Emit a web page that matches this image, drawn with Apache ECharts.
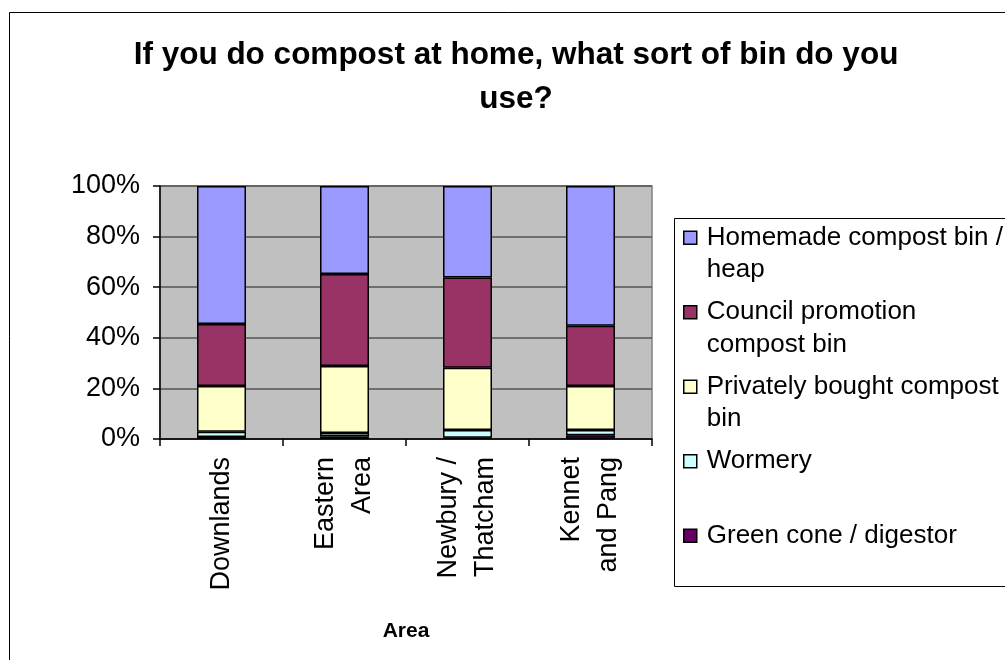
<!DOCTYPE html>
<html>
<head>
<meta charset="utf-8">
<title>Compost bins by area</title>
<script src="https://cdn.jsdelivr.net/npm/echarts@6/dist/echarts.min.js"></script>
<style>
  html, body { margin: 0; padding: 0; background: #fff; }
  #chart { width: 1005px; height: 660px; }
</style>
</head>
<body>
<div id="chart"></div>
<script>
// areas along the x axis
var areas = ['Downlands', 'Eastern\nArea', 'Newbury /\nThatcham', 'Kennet\nand Pang'];

// share of respondents (%) per bin type
var greenCone   = [0.8, 1.0, 0.5, 1.5];
var wormery     = [2.1, 1.4, 3.1, 2.1];
var privately   = [18.0, 26.5, 24.6, 17.3];
var council     = [24.6, 36.3, 35.6, 23.9];
var homemade    = [54.5, 34.8, 36.2, 55.2];

var yTicks = [0, 20, 40, 60, 80, 100];

// legend text, wrapped as in the original
var legendText = {
  'Homemade compost bin / heap': 'Homemade compost bin /\nheap',
  'Council promotion compost bin': 'Council promotion\ncompost bin',
  'Privately bought compost bin': 'Privately bought compost\nbin',
  'Wormery': 'Wormery\n',
  'Green cone / digestor': 'Green cone / digestor\n'
};

var FONT = '"Liberation Sans", Arial, Helvetica, sans-serif';

function barSeries(name, data, color) {
  return {
    name: name,
    type: 'bar',
    stack: 'all',
    barWidth: 49,
    data: data,
    itemStyle: { color: color, borderColor: '#000', borderWidth: 1.5 }
  };
}

var chart = echarts.init(document.getElementById('chart'));

var option = {
  animation: false,
  backgroundColor: '#fff',
  textStyle: { fontFamily: FONT, color: '#000' },
  title: {
    text: 'If you do compost at home, what sort of bin do you\nuse?',
    left: 516,
    top: 33,
    padding: 0,
    textAlign: 'center',
    textStyle: { fontFamily: FONT, fontSize: 31.5, fontWeight: 'bold', color: '#000', lineHeight: 44 }
  },
  graphic: [
    { type: 'rect', silent: true, z: -1,
      shape: { x: 9.5, y: 12.5, width: 1100, height: 1000 },
      style: { fill: null, stroke: '#000', lineWidth: 1 } },
    { type: 'rect', silent: true,
      shape: { x: 674.5, y: 218.5, width: 400, height: 368 },
      style: { fill: null, stroke: '#000', lineWidth: 1 } }
  ],
  legend: {
    orient: 'vertical',
    left: 683,
    top: 189,
    padding: 0,
    itemGap: -23,
    itemWidth: 13,
    itemHeight: 13,
    icon: 'rect',
    selectedMode: false,
    data: ['Homemade compost bin / heap', 'Council promotion compost bin',
           'Privately bought compost bin', 'Wormery', 'Green cone / digestor'],
    formatter: function (name) { return '\n' + legendText[name]; },
    itemStyle: { borderColor: '#000', borderWidth: 1.5 },
    textStyle: { fontFamily: FONT, fontSize: 26, color: '#000', lineHeight: 32.5, padding: [0, 0, 0, 5] }
  },
  grid: {
    left: 160,
    right: 353,
    top: 186,
    bottom: 221,
    show: true,
    backgroundColor: '#C0C0C0',
    borderColor: '#808080',
    borderWidth: 1.5
  },
  xAxis: {
    type: 'category',
    data: areas,
    name: 'Area',
    nameLocation: 'middle',
    nameGap: 182,
    nameTextStyle: { fontFamily: FONT, fontSize: 21, fontWeight: 'bold', color: '#000' },
    axisLine: { lineStyle: { color: '#000', width: 1.5 } },
    axisTick: { show: true, length: 7, alignWithLabel: false, lineStyle: { color: '#000', width: 1.5 } },
    axisLabel: { rotate: 90, margin: 18, fontFamily: FONT, fontSize: 27, lineHeight: 37, color: '#000' }
  },
  yAxis: {
    type: 'value',
    min: yTicks[0],
    max: yTicks[yTicks.length - 1],
    interval: yTicks[1] - yTicks[0],
    axisLine: { show: true, lineStyle: { color: '#000', width: 1.5 } },
    axisTick: { show: true, length: 7, lineStyle: { color: '#000', width: 1.5 } },
    axisLabel: { formatter: '{value}%', margin: 20, fontFamily: FONT, fontSize: 27, color: '#000' },
    splitLine: { show: true, lineStyle: { color: '#555', width: 1.5 } }
  },
  series: [
    barSeries('Green cone / digestor', greenCone, '#660066'),
    barSeries('Wormery', wormery, '#CCFFFF'),
    barSeries('Privately bought compost bin', privately, '#FFFFCC'),
    barSeries('Council promotion compost bin', council, '#993366'),
    barSeries('Homemade compost bin / heap', homemade, '#9999FF')
  ]
};

chart.setOption(option);
</script>
</body>
</html>
